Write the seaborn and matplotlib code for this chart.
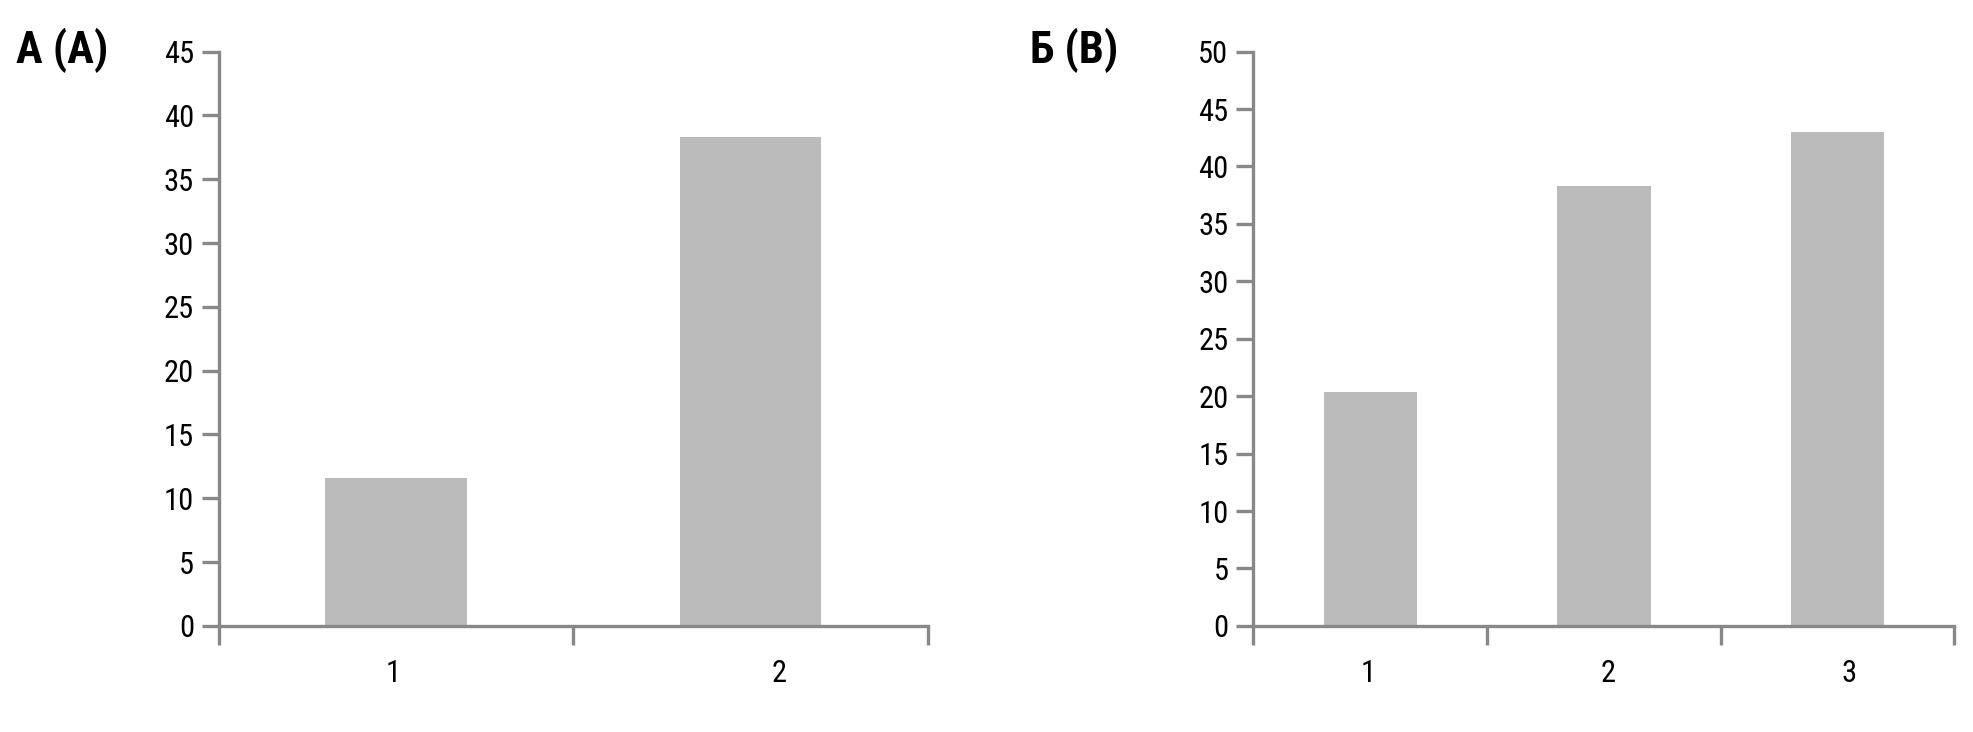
import numpy as np
import matplotlib
matplotlib.use("Agg")
import matplotlib.pyplot as plt
from matplotlib import font_manager
import seaborn as sns

# Datos
cats_a = ["1", "2"]
vals_a = [11.6, 38.3]
cats_b = ["1", "2", "3"]
vals_b = [20.4, 38.3, 43.0]
label_a = "А (A)"
label_b = "Б (B)"

sns.set_theme(style="white")

# Buscar una fuente estrecha (tipo Arial Narrow); si no hay, Liberation Sans
preferidas = ["Liberation Sans Narrow", "Arial Narrow", "Roboto Condensed"]
candidatas = [f for f in font_manager.fontManager.ttflist
              if ("Narrow" in f.name or "Condensed" in f.name
                  or str(f.stretch) in ("condensed", "semi-condensed"))]
candidatas.sort(key=lambda f: preferidas.index(f.name) if f.name in preferidas else 99)
narrow = candidatas[0] if candidatas else None

if narrow is not None:
    plt.rcParams['font.family'] = [narrow.name, 'Liberation Sans', 'DejaVu Sans']
    plt.rcParams['font.stretch'] = narrow.stretch
    tick_fs, title_fs = 22, 32
else:
    plt.rcParams['font.family'] = ['Liberation Sans', 'DejaVu Sans']
    tick_fs, title_fs = 19, 27

bar_color = "#bbbbbb"
axis_color = "#888888"

fig = plt.figure(figsize=(19.74, 7.32), dpi=100)
ax_a = fig.add_axes([0.111, 0.145, 0.359, 0.7845])
ax_b = fig.add_axes([0.635, 0.145, 0.355, 0.7845])


def draw_panel(ax, cats, vals, ymax, label_stretch):
    sns.barplot(x=cats, y=vals, color=bar_color, width=0.4, ax=ax,
                saturation=1, edgecolor="none")
    n = len(cats)
    ax.set_xlim(-0.5, n - 0.5)
    ax.set_ylim(0, ymax)
    ax.set_yticks(np.arange(0, ymax + 1, 5))
    ax.set_yticklabels([str(v) for v in range(0, ymax + 1, 5)],
                       fontsize=tick_fs, color="black")
    # ticks mayores en los limites de categoria, etiquetas casi en el centro
    ax.set_xticks(np.arange(-0.5, n, 1.0))
    ax.set_xticklabels([""] * (n + 1))
    ax.set_xticks(np.arange(n) * label_stretch - 0.01, minor=True)
    ax.set_xticklabels(cats, minor=True, fontsize=tick_fs, color="black")
    ax.tick_params(axis="x", which="major", direction="out", length=14,
                   width=2.4, color=axis_color, bottom=True)
    ax.tick_params(axis="x", which="minor", length=0, pad=24, bottom=True)
    ax.tick_params(axis="y", direction="out", length=12, width=2.4,
                   color=axis_color, pad=6, left=True)
    for side in ["top", "right"]:
        ax.spines[side].set_visible(False)
    for side in ["left", "bottom"]:
        ax.spines[side].set_color(axis_color)
        ax.spines[side].set_linewidth(2.4)
    ax.set_xlabel("")
    ax.set_ylabel("")


draw_panel(ax_a, cats_a, vals_a, 45, 1.09)
draw_panel(ax_b, cats_b, vals_b, 50, 1.03)

fig.text(16 / 1974, 1 - 63 / 732, label_a, fontsize=title_fs, fontweight="bold",
         ha="left", va="baseline", color="black")
fig.text(1030 / 1974, 1 - 63 / 732, label_b, fontsize=title_fs, fontweight="bold",
         ha="left", va="baseline", color="black")

fig.savefig("out.png", dpi=100)
